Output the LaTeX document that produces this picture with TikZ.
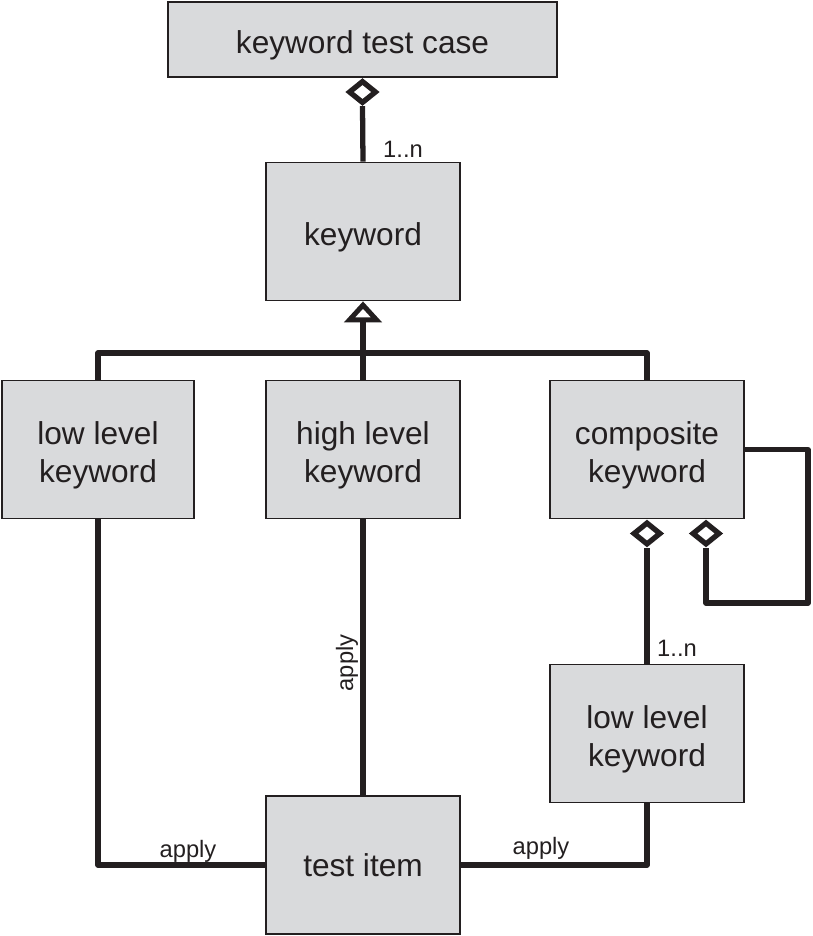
\documentclass[tikz,border=0pt]{standalone}
\usepackage{fontspec}
\setmainfont{Liberation Sans}
\usetikzlibrary{arrows.meta, shapes.geometric}
\definecolor{boxgray}{RGB}{217,218,220}
\definecolor{ink}{RGB}{35,31,32}
\newcommand{\kwstrut}{\rule{0pt}{20pt}}

\begin{document}
\begin{tikzpicture}[x=0.02cm, y=-0.02cm,
  box/.style={draw=ink, line width=1pt, fill=boxgray, text=ink, align=center,
    inner sep=0pt, minimum width=3.88cm, minimum height=2.76cm,
    font=\fontsize{18}{21.5}\selectfont},
  link/.style={draw=ink, line width=3pt, line join=round},
  lbl/.style={text=ink, inner sep=0pt, font=\fontsize{13.5}{16}\selectfont},
  aggd/.style={diamond, draw=ink, fill=white, line width=3pt, inner sep=0pt,
    minimum width=0.56cm, minimum height=0.46cm, anchor=north},
  gen/.style={-{Triangle[open, length=0.42cm, width=0.74cm, line width=2.8pt]}}]
  \useasboundingbox (0,0) rectangle (813,936);
  % classes
  \node[box, minimum width=7.78cm, minimum height=1.5cm] (ktc) at (362.5,39.5) {\kwstrut keyword test case};
  \node[box] (kw)   at (363,231.5) {\kwstrut keyword};
  \node[box, minimum width=3.84cm] (llk) at (98,449.5) {\kwstrut low level\\keyword};
  \node[box] (hlk)  at (363,449.5) {\kwstrut high level\\keyword};
  \node[box] (ck)   at (647,449.5) {\kwstrut composite\\keyword};
  \node[box] (llkb) at (647,733.5) {\kwstrut low level\\keyword};
  \node[box] (ti)   at (363,865) {test item};
  % aggregation keyword -> test case
  \node[aggd] (d1) at (ktc.south) {};
  \draw[link] (kw.north) -- (d1.south);
  \node[lbl] at (403,149) {1..n};
  % generalisation
  \coordinate (bus) at (363,353);
  \draw[link] (llk.north) |- (bus) -| (ck.north);
  \draw[link, gen] (hlk.north) -- (kw.south);
  % composite keyword
  \node[aggd] (d2) at (ck.south) {};
  \node[aggd] (d3) at ([xshift=1.18cm]ck.south) {};
  \draw[link] (llkb.north) -- (d2.south);
  \node[lbl] at (677,648) {1..n};
  \coordinate (loopR) at (808,603);
  \draw[link] (ck.east) -| (loopR) -| (d3.south);
  % apply
  \draw[link] (llk.south) |- (ti.west);
  \node[lbl] at (188,851) {apply};
  \draw[link] (hlk.south) -- (ti.north);
  \node[lbl, rotate=90] at (347,663) {apply};
  \draw[link] (ti.east) -| (llkb.south);
  \node[lbl] at (541,848) {apply};
\end{tikzpicture}
\end{document}
